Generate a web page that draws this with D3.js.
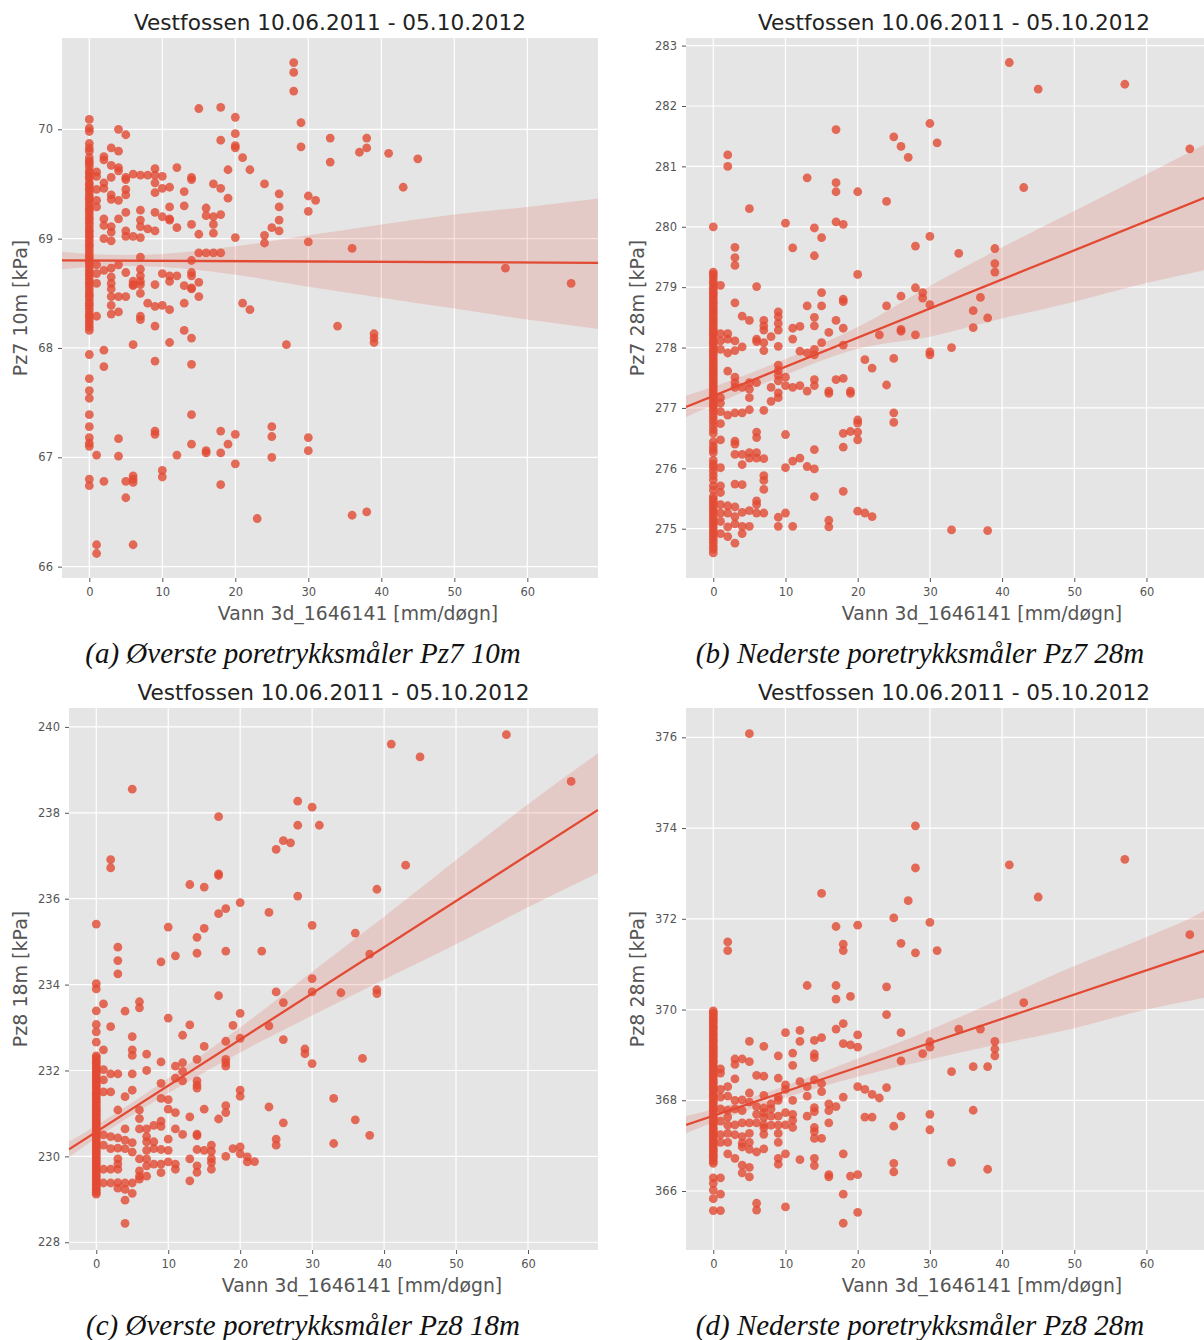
<!DOCTYPE html>
<html>
<head>
<meta charset="utf-8">
<script src="https://cdn.jsdelivr.net/npm/d3@7"></script>
<style>
  body { margin: 0; background: #fff; }
  svg { display: block; }
</style>
</head>
<body>
<svg id="fig" width="1204" height="1340"></svg>
<script>
// ---------- shared labels ----------
const chartTitle = "Vestfossen 10.06.2011 - 05.10.2012";
const xLabel = "Vann 3d_1646141 [mm/døgn]";
const xTicks = [0, 10, 20, 30, 40, 50, 60];

// ---------- (a) Pz7 10m ----------
const pz7_10m_yTicks = [66, 67, 68, 69, 70];
// readings on days with no rain (x = 0)
const pz7_10m_dry = [70.09,70.01,69.98,69.87,69.83,69.80,69.74,69.71,69.69,69.66,69.62,69.60,69.57,69.55,69.51,69.49,69.46,69.44,69.41,69.38,69.36,69.33,69.30,69.27,69.25,69.22,69.19,69.17,69.14,69.11,69.08,69.06,69.03,69.01,68.98,68.95,68.93,68.90,68.87,68.84,68.82,68.79,68.77,68.74,68.71,68.68,68.66,68.63,68.60,68.58,68.55,68.52,68.49,68.47,68.44,68.41,68.39,68.36,68.33,68.30,68.28,68.25,68.22,68.19,68.16,67.94,67.72,67.61,67.54,67.39,67.28,67.18,67.13,67.10,66.80,66.74];
const pz7_10m_wet = [
[15,70.19],[18,70.20],[20,70.11],[4,70.00],[5,69.95],[18,69.90],[20,69.96],[20,69.85],[20,69.83],[21,69.74],[22,69.63],[19,69.63],
[3,69.83],[4,69.80],[2,69.75],[2,69.72],[4,69.65],[4,69.62],[3,69.67],[1,69.61],[1,69.57],[2,69.51],[2,69.46],[3,69.56],[5,69.56],[5,69.54],
[6,69.59],[7,69.58],[8,69.58],[9,69.64],[9,69.58],[10,69.57],[12,69.65],[14,69.56],[14,69.54],[13,69.43],[17,69.50],[18,69.46],[5,69.45],
[5,69.40],[9,69.51],[9,69.42],[10,69.46],[11,69.47],[3,69.40],[3,69.36],[4,69.35],[1,69.45],[1,69.35],[1,69.29],[5,69.24],[7,69.26],[9,69.24],
[11,69.29],[13,69.30],[16,69.28],[16,69.21],[17,69.20],[17,69.13],[18,69.22],[19,69.37],[2,69.18],[2,69.12],[3,69.11],[3,69.06],[4,69.18],
[7,69.17],[7,69.11],[8,69.09],[9,69.07],[10,69.20],[11,69.18],[11,69.17],[12,69.10],[14,69.13],[5,69.07],[5,69.02],[6,69.02],[7,69.01],
[2,69.00],[3,68.98],[15,69.04],[17,69.05],[20,69.01],[15,68.87],[16,68.87],[17,68.87],[18,68.87],[7,68.83],[14,68.80],[1,68.76],[2,68.71],
[3,68.73],[4,68.76],[5,68.69],[7,68.72],[7,68.66],[7,68.61],[1,68.68],[1,68.59],[3,68.65],[3,68.59],[3,68.54],[3,68.47],[3,68.39],[3,68.31],
[4,68.47],[5,68.47],[6,68.61],[6,68.58],[6,68.57],[7,68.58],[7,68.50],[9,68.58],[10,68.68],[11,68.66],[11,68.61],[12,68.66],[13,68.57],
[14,68.69],[14,68.66],[14,68.55],[14,68.54],[15,68.60],[15,68.47],[8,68.41],[9,68.38],[10,68.39],[11,68.35],[13,68.41],[4,68.33],[7,68.29],
[7,68.26],[1,68.29],[9,68.20],[21,68.41],[22,68.35],[13,68.16],[14,68.09],[11,68.05],[6,68.03],[2,67.98],[2,67.83],[9,67.88],[14,67.85],
[14,67.39],[9,67.24],[9,67.21],[4,67.17],[4,67.01],[1,67.02],[14,67.12],[12,67.02],[16,67.06],[16,67.04],[18,67.24],[18,67.04],[19,67.12],
[20,67.21],[20,66.94],[2,66.78],[5,66.78],[5,66.63],[6,66.83],[6,66.80],[6,66.77],[10,66.88],[10,66.82],[18,66.75],[23,66.44],[6,66.20],
[1,66.20],[1,66.12],
[28,70.61],[28,70.52],[28,70.35],[29,70.06],[29,69.84],[33,69.92],[33,69.70],[37,69.79],[38,69.92],[38,69.83],[41,69.78],[45,69.73],
[43,69.47],[24,69.50],[26,69.41],[26,69.29],[26,69.17],[26,69.07],[25,69.10],[24,69.03],[24,68.96],[30,69.39],[31,69.35],[30,69.25],
[30,68.97],[36,68.91],[57,68.73],[66,68.59],[34,68.20],[39,68.13],[39,68.09],[39,68.05],[27,68.03],[25,67.28],[25,67.19],[25,67.00],
[30,67.18],[30,67.06],[36,66.47],[38,66.50]];
const pz7_10m_fit = [68.80, -0.0003];           // intercept, slope
const pz7_10m_ci = [                              // x, lower, upper
[-3.8,68.72,68.88],[0,68.74,68.86],[5,68.75,68.85],[10,68.74,68.86],[20,68.67,68.93],
[30,68.56,69.03],[40,68.46,69.13],[50,68.36,69.22],[60,68.26,69.29],[70,68.17,69.37]];

// ---------- (b) Pz7 28m ----------
const pz7_28m_yTicks = [275, 276, 277, 278, 279, 280, 281, 282, 283];
const pz7_28m_dry = [280.00,279.25,279.21,279.16,279.10,279.06,279.00,278.96,278.91,278.88,278.84,278.79,278.75,278.71,278.66,278.62,278.58,278.54,278.49,278.45,278.41,278.37,278.32,278.28,278.24,278.20,278.15,278.11,278.07,278.03,277.98,277.94,277.90,277.86,277.81,277.77,277.73,277.69,277.64,277.60,277.56,277.52,277.47,277.43,277.39,277.35,277.31,277.26,277.22,277.18,277.14,277.09,277.05,277.01,276.96,276.90,276.84,276.78,276.71,276.64,276.58,276.44,276.37,276.31,276.26,276.13,276.07,276.02,275.95,275.88,275.81,275.71,275.64,275.53,275.49,275.44,275.40,275.35,275.30,275.26,275.21,275.16,275.11,275.07,275.02,274.97,274.92,274.87,274.82,274.77,274.71,274.66,274.60];
const pz7_28m_wet = [
[17,281.61],[2,281.19],[2,281.00],[13,280.81],[17,280.73],[17,280.58],[20,280.58],[5,280.30],[10,280.06],[14,279.98],[17,280.08],
[18,280.04],[15,279.82],[3,279.66],[3,279.49],[3,279.36],[11,279.65],[14,279.52],[20,279.21],[1,279.03],[6,279.01],[15,278.91],[13,278.69],
[15,278.69],[18,278.80],[18,278.76],[3,278.74],[4,278.52],[5,278.45],[7,278.45],[7,278.36],[7,278.29],[9,278.59],[9,278.51],[9,278.40],
[9,278.29],[11,278.32],[12,278.35],[14,278.50],[14,278.36],[17,278.45],[18,278.32],[16,278.25],[1,278.23],[2,278.23],[1,278.11],[2,278.14],
[3,278.11],[1,277.97],[2,277.91],[3,277.95],[4,278.01],[6,278.14],[6,278.10],[7,278.08],[8,278.18],[7,277.95],[9,278.02],[11,278.14],
[12,277.94],[13,277.91],[14,277.97],[14,277.88],[15,278.08],[18,278.04],[21,277.80],[22,277.66],[23,278.21],[2,277.61],[3,277.51],[3,277.42],
[3,277.34],[5,277.42],[4,277.34],[5,277.31],[5,277.17],[5,276.97],[6,277.42],[8,277.34],[8,277.11],[9,277.71],[9,277.62],[9,277.54],
[9,277.45],[9,277.25],[9,277.17],[10,277.51],[10,277.37],[11,277.34],[12,277.37],[13,277.28],[14,277.47],[14,277.37],[16,277.28],[16,277.24],
[17,277.47],[18,277.49],[19,277.28],[19,277.24],[1,277.17],[1,277.08],[1,276.94],[2,276.88],[3,276.92],[4,276.92],[7,276.96],[20,276.80],
[20,276.75],[18,276.58],[19,276.61],[20,276.60],[20,276.47],[18,276.35],[1,276.74],[1,276.47],[3,276.45],[3,276.40],[3,276.23],[4,276.23],
[5,276.26],[5,276.17],[6,276.26],[6,276.17],[7,276.16],[4,276.06],[6,276.60],[6,276.51],[10,276.56],[10,276.01],[11,276.12],[12,276.17],
[13,276.03],[14,275.99],[14,276.31],[1,276.01],[7,275.88],[7,275.80],[7,275.65],[3,275.74],[4,275.73],[1,275.71],[1,275.60],[14,275.53],
[18,275.62],[6,275.46],[6,275.40],[1,275.40],[2,275.38],[3,275.36],[1,275.26],[2,275.26],[3,275.20],[4,275.27],[5,275.30],[6,275.26],
[7,275.26],[9,275.19],[10,275.26],[9,275.04],[11,275.04],[16,275.14],[16,275.03],[20,275.29],[21,275.26],[22,275.20],[1,275.12],[2,275.03],
[1,274.92],[2,274.87],[3,274.76],[4,274.92],[5,275.04],[4,275.04],[3,275.08],
[41,282.72],[45,282.28],[57,282.36],[66,281.29],[30,281.71],[31,281.39],[25,281.49],[26,281.33],[27,281.15],[24,280.42],[43,280.65],
[30,279.84],[28,279.68],[34,279.56],[39,279.64],[39,279.39],[39,279.25],[28,278.99],[29,278.91],[29,278.82],[30,278.71],[26,278.85],
[24,278.69],[37,278.83],[36,278.61],[38,278.49],[36,278.33],[26,278.30],[26,278.27],[28,278.21],[33,278.00],[30,277.93],[30,277.88],
[25,277.82],[24,277.38],[25,276.92],[25,276.76],[33,274.98],[38,274.97]];
const pz7_28m_fit = [277.20, 0.0482];
const pz7_28m_ci = [
[-3.8,276.85,277.20],[0,277.05,277.35],[10,277.55,277.81],[20,277.98,278.34],[30,278.18,279.02],
[40,278.48,279.66],[50,278.76,280.26],[60,279.07,280.87],[68,279.28,281.36],[71,279.37,281.54]];

// ---------- (c) Pz8 18m ----------
const pz8_18m_yTicks = [228, 230, 232, 234, 236, 238, 240];
const pz8_18m_dry = [235.41,234.02,233.90,233.39,233.07,232.90,232.66,232.34,232.30,232.24,232.19,232.15,232.09,232.04,231.99,231.95,231.90,231.84,231.80,231.76,231.70,231.66,231.62,231.57,231.51,231.47,231.43,231.38,231.33,231.28,231.24,231.19,231.14,231.09,231.05,231.00,230.96,230.90,230.86,230.81,230.77,230.72,230.67,230.62,230.58,230.53,230.48,230.44,230.39,230.34,230.29,230.25,230.20,230.15,230.11,230.06,230.01,229.96,229.92,229.87,229.83,229.78,229.73,229.68,229.64,229.59,229.54,229.49,229.45,229.40,229.35,229.31,229.26,229.21,229.16,229.12];
const pz8_18m_wet = [
[5,238.55],[17,237.91],[2,236.91],[2,236.72],[17,236.58],[17,236.54],[13,236.33],[15,236.27],[20,235.91],[18,235.77],[17,235.65],[10,235.34],
[15,235.31],[14,235.10],[3,234.87],[3,234.56],[3,234.25],[11,234.67],[9,234.53],[14,234.73],[18,234.78],[23,234.78],[1,233.55],[6,233.60],
[6,233.46],[4,233.38],[17,233.74],[2,233.02],[10,233.22],[13,233.06],[12,232.82],[20,233.33],[19,233.05],[5,232.79],[1,232.48],[5,232.48],
[5,232.35],[7,232.38],[15,232.56],[18,232.68],[20,232.75],[9,232.20],[11,232.10],[12,232.18],[12,231.98],[14,232.26],[18,232.26],[18,232.18],
[18,232.10],[1,232.02],[2,231.92],[3,231.92],[5,231.92],[7,232.00],[1,231.78],[1,231.50],[11,231.82],[12,231.76],[14,231.76],[14,231.66],
[14,231.59],[9,231.70],[20,231.54],[20,231.40],[2,231.50],[5,231.54],[4,231.39],[9,231.35],[10,231.32],[3,231.08],[6,231.08],[6,230.88],
[10,231.10],[11,231.02],[15,231.10],[18,231.18],[18,231.02],[17,230.87],[13,230.92],[4,230.64],[6,230.64],[7,230.64],[8,230.72],[9,230.82],
[9,230.70],[11,230.64],[12,230.51],[1,230.50],[2,230.46],[3,230.43],[4,230.38],[5,230.32],[7,230.46],[7,230.34],[8,230.34],[10,230.40],
[14,230.52],[14,230.48],[1,230.26],[2,230.18],[3,230.19],[4,230.18],[5,230.10],[7,230.14],[8,230.18],[9,230.16],[10,230.14],[14,230.16],
[15,230.14],[16,230.26],[16,230.12],[19,230.18],[20,230.22],[20,230.06],[21,229.99],[22,229.88],[21,229.87],[3,229.94],[3,229.82],[3,229.70],
[6,229.94],[7,229.94],[7,229.78],[8,229.82],[9,229.82],[10,229.87],[11,229.82],[11,229.70],[13,229.94],[14,229.78],[14,229.63],[16,229.95],
[16,229.86],[16,229.70],[18,230.00],[1,229.70],[2,229.70],[1,229.38],[2,229.38],[3,229.39],[4,229.38],[5,229.38],[6,229.66],[6,229.54],
[7,229.54],[9,229.62],[3,229.26],[4,229.23],[5,229.14],[6,229.47],[13,229.43],[4,228.98],[4,228.44],
[41,239.60],[45,239.30],[57,239.82],[66,238.73],[28,238.27],[30,238.13],[28,237.71],[31,237.71],[26,237.35],[27,237.30],[25,237.15],
[43,236.78],[39,236.22],[28,236.06],[24,235.68],[30,235.38],[36,235.20],[38,234.71],[30,234.14],[25,233.83],[30,233.83],[34,233.81],
[39,233.88],[39,233.79],[26,233.58],[24,233.04],[26,232.72],[29,232.50],[29,232.39],[30,232.16],[37,232.28],[24,231.15],[33,231.35],
[26,230.78],[36,230.85],[38,230.49],[25,230.40],[25,230.26],[33,230.30]];
const pz8_18m_fit = [230.57, 0.1075];
const pz8_18m_ci = [
[-3.8,229.98,230.34],[0,230.42,230.72],[10,231.47,231.82],[20,232.42,233.00],[30,233.28,234.30],
[40,234.12,235.58],[50,234.94,236.90],[60,235.80,238.20],[70,236.62,239.42]];

// ---------- (d) Pz8 28m ----------
const pz8_28m_yTicks = [366, 368, 370, 372, 374, 376];
const pz8_28m_dry = [369.97,369.92,369.87,369.81,369.76,369.72,369.66,369.61,369.57,369.51,369.46,369.42,369.36,369.31,369.27,369.21,369.16,369.12,369.06,369.01,368.97,368.91,368.86,368.82,368.76,368.71,368.67,368.61,368.56,368.52,368.46,368.41,368.37,368.31,368.26,368.22,368.16,368.11,368.07,368.01,367.96,367.92,367.86,367.81,367.77,367.71,367.66,367.62,367.56,367.51,367.47,367.41,367.36,367.32,367.26,367.21,367.17,367.11,367.06,367.02,366.96,366.91,366.87,366.81,366.76,366.72,366.66,366.61,366.29,366.17,366.02,365.83,365.57];
const pz8_28m_wet = [
[5,376.08],[15,372.56],[17,371.83],[20,371.86],[2,371.49],[2,371.30],[18,371.44],[18,371.30],[13,370.53],[17,370.53],[17,370.23],[19,370.29],
[18,369.69],[17,369.57],[10,369.49],[12,369.54],[5,369.30],[7,369.19],[12,369.30],[14,369.32],[15,369.38],[18,369.25],[19,369.22],[20,369.17],
[20,369.44],[9,368.98],[11,369.04],[14,369.02],[14,368.94],[3,368.91],[4,368.91],[5,368.85],[3,368.79],[11,368.77],[1,368.69],[1,368.60],
[3,368.47],[6,368.55],[7,368.53],[9,368.49],[10,368.34],[10,368.24],[12,368.41],[13,368.30],[14,368.45],[15,368.37],[15,368.19],[20,368.30],
[21,368.24],[22,368.13],[23,368.05],[1,368.24],[2,368.30],[1,368.07],[2,368.09],[3,368.00],[4,368.01],[5,368.16],[5,367.96],[7,368.11],
[8,367.92],[9,368.07],[9,368.00],[11,368.00],[13,368.09],[18,368.07],[6,367.86],[7,367.83],[8,367.81],[3,367.81],[4,367.77],[2,367.78],
[1,367.81],[2,367.63],[6,367.69],[7,367.73],[7,367.62],[8,367.65],[9,367.65],[10,367.73],[11,367.69],[11,367.56],[13,367.65],[14,367.84],
[14,367.75],[16,367.92],[16,367.77],[17,367.86],[21,367.63],[22,367.63],[1,367.54],[2,367.45],[3,367.46],[4,367.50],[5,367.50],[6,367.50],
[7,367.46],[7,367.39],[8,367.45],[9,367.45],[10,367.46],[11,367.40],[16,367.50],[14,367.40],[14,367.31],[1,367.24],[2,367.27],[3,367.24],
[4,367.20],[5,367.27],[7,367.25],[9,367.27],[14,367.16],[15,367.16],[1,367.07],[2,367.07],[4,367.05],[5,367.07],[9,367.07],[2,366.82],
[3,366.72],[4,366.97],[5,366.92],[6,366.86],[7,366.93],[10,366.82],[9,366.72],[9,366.59],[12,366.69],[14,366.72],[14,366.56],[18,366.82],
[4,366.57],[4,366.40],[5,366.52],[5,366.31],[1,366.29],[16,366.36],[16,366.31],[19,366.33],[20,366.36],[1,365.93],[18,365.93],[6,365.73],
[6,365.58],[10,365.65],[1,365.57],[20,365.53],[18,365.29],
[28,374.05],[28,373.12],[41,373.19],[57,373.31],[45,372.48],[27,372.40],[25,372.02],[30,371.92],[66,371.65],[26,371.46],[28,371.25],
[31,371.30],[24,370.50],[24,369.89],[43,370.15],[26,369.49],[34,369.57],[37,369.57],[30,369.29],[30,369.17],[29,369.03],[39,369.30],
[39,369.13],[39,368.98],[26,368.87],[33,368.63],[36,368.74],[38,368.74],[24,368.28],[36,367.78],[26,367.65],[25,367.43],[30,367.69],
[30,367.35],[25,366.61],[25,366.42],[33,366.63],[38,366.48]];
const pz8_28m_fit = [367.66, 0.0534];
const pz8_28m_ci = [
[-3.8,367.27,367.65],[0,367.51,367.80],[10,368.06,368.32],[20,368.52,368.92],[30,368.90,369.55],
[40,369.25,370.25],[50,369.59,370.96],[60,370.00,371.60],[68,370.26,372.18],[71,370.36,372.50]];

// ---------- layout ----------
const panels = [
  { id: "a", dry: pz7_10m_dry, wet: pz7_10m_wet, fit: pz7_10m_fit, ci: pz7_10m_ci, yTicks: pz7_10m_yTicks,
    yLabel: "Pz7 10m [kPa]", caption: "(a) Øverste poretrykksmåler Pz7 10m",
    left: 62, top: 38, width: 536, height: 540, xDomain: [-3.74, 69.68], yDomain: [65.896, 70.835],
    yLabelX: 27, xLabelCx: 358, captionCx: 303 },
  { id: "b", dry: pz7_28m_dry, wet: pz7_28m_wet, fit: pz7_28m_fit, ci: pz7_28m_ci, yTicks: pz7_28m_yTicks,
    yLabel: "Pz7 28m [kPa]", caption: "(b) Nederste poretrykksmåler Pz7 28m",
    left: 686, top: 38, width: 536, height: 540, xDomain: [-3.78, 70.46], yDomain: [274.184, 283.126],
    yLabelX: 644, xLabelCx: 982, captionCx: 920 },
  { id: "c", dry: pz8_18m_dry, wet: pz8_18m_wet, fit: pz8_18m_fit, ci: pz8_18m_ci, yTicks: pz8_18m_yTicks,
    yLabel: "Pz8 18m [kPa]", caption: "(c) Øverste poretrykksmåler Pz8 18m",
    left: 69, top: 708, width: 529, height: 542, xDomain: [-3.79, 69.73], yDomain: [227.82, 240.44],
    yLabelX: 27, xLabelCx: 362, captionCx: 303 },
  { id: "d", dry: pz8_28m_dry, wet: pz8_28m_wet, fit: pz8_28m_fit, ci: pz8_28m_ci, yTicks: pz8_28m_yTicks,
    yLabel: "Pz8 28m [kPa]", caption: "(d) Nederste poretrykksmåler Pz8 28m",
    left: 686, top: 708, width: 536, height: 542, xDomain: [-3.78, 70.46], yDomain: [364.70, 376.646],
    yLabelX: 644, xLabelCx: 982, captionCx: 920 }
];

const RED = "#E24A33";
const SANS = "'DejaVu Sans', sans-serif";
const svg = d3.select("#fig");
const defs = svg.append("defs");

panels.forEach(p => {
  const x = d3.scaleLinear().domain(p.xDomain).range([p.left, p.left + p.width]);
  const y = d3.scaleLinear().domain(p.yDomain).range([p.top + p.height, p.top]);
  const bottom = p.top + p.height;
  const g = svg.append("g").attr("class", "panel-" + p.id);

  // plot background
  g.append("rect")
    .attr("x", p.left).attr("y", p.top)
    .attr("width", p.width).attr("height", p.height)
    .attr("fill", "#E5E5E5");

  // white major grid
  g.append("g").selectAll("line").data(xTicks).join("line")
    .attr("x1", d => x(d)).attr("x2", d => x(d))
    .attr("y1", p.top).attr("y2", bottom)
    .attr("stroke", "#fff").attr("stroke-width", 1.2);
  g.append("g").selectAll("line").data(p.yTicks).join("line")
    .attr("x1", p.left).attr("x2", p.left + p.width)
    .attr("y1", d => y(d)).attr("y2", d => y(d))
    .attr("stroke", "#fff").attr("stroke-width", 1.2);

  // clip to axes
  defs.append("clipPath").attr("id", "clip-" + p.id)
    .append("rect").attr("x", p.left).attr("y", p.top)
    .attr("width", p.width).attr("height", p.height);
  const plot = g.append("g").attr("clip-path", `url(#clip-${p.id})`);

  // confidence band of the regression
  const area = d3.area()
    .x(d => x(d[0])).y0(d => y(d[1])).y1(d => y(d[2]))
    .curve(d3.curveMonotoneX);
  plot.append("path").datum(p.ci)
    .attr("d", area).attr("fill", RED).attr("fill-opacity", 0.17);

  // scatter
  const pts = p.dry.map(v => [0, v]).concat(p.wet);
  plot.append("g").selectAll("circle").data(pts).join("circle")
    .attr("cx", d => x(d[0])).attr("cy", d => y(d[1]))
    .attr("r", 4.4).attr("fill", RED).attr("fill-opacity", 0.8);

  // regression line
  const [b0, b1] = p.fit;
  const line = d3.line().x(d => x(d)).y(d => y(b0 + b1 * d));
  plot.append("path").datum(p.xDomain)
    .attr("d", line).attr("fill", "none")
    .attr("stroke", RED).attr("stroke-width", 2.3);

  // axes
  const fmt = d3.format("d");
  const xAxis = d3.axisBottom(x).tickValues(xTicks).tickFormat(fmt).tickSize(4).tickPadding(6);
  const yAxis = d3.axisLeft(y).tickValues(p.yTicks).tickFormat(fmt).tickSize(4).tickPadding(5);
  [g.append("g").attr("transform", `translate(0,${bottom})`).call(xAxis),
   g.append("g").attr("transform", `translate(${p.left},0)`).call(yAxis)].forEach(ax => {
    ax.select(".domain").remove();
    ax.selectAll(".tick line").attr("stroke", "#555").attr("stroke-width", 1);
    ax.selectAll(".tick text").attr("fill", "#555")
      .style("font-family", SANS).style("font-size", "11.5px");
  });

  // title
  g.append("text")
    .attr("x", p.left + p.width / 2).attr("y", p.top - 8)
    .attr("text-anchor", "middle")
    .style("font-family", SANS).style("font-size", "21.6px").attr("fill", "#222")
    .text(chartTitle);

  // axis labels
  g.append("text")
    .attr("x", p.xLabelCx).attr("y", bottom + 42)
    .attr("text-anchor", "middle")
    .style("font-family", SANS).style("font-size", "18.8px").attr("fill", "#555")
    .text(xLabel);
  g.append("text")
    .attr("transform", `translate(${p.yLabelX},${p.top + p.height / 2}) rotate(-90)`)
    .attr("text-anchor", "middle")
    .style("font-family", SANS).style("font-size", "19px").attr("fill", "#555")
    .text(p.yLabel);

  // sub-figure caption
  g.append("text")
    .attr("x", p.captionCx).attr("y", bottom + 85)
    .attr("text-anchor", "middle")
    .style("font-family", "'Liberation Serif', serif").style("font-style", "italic")
    .style("font-size", "29px").attr("fill", "#111")
    .text(p.caption);
});
</script>
</body>
</html>
